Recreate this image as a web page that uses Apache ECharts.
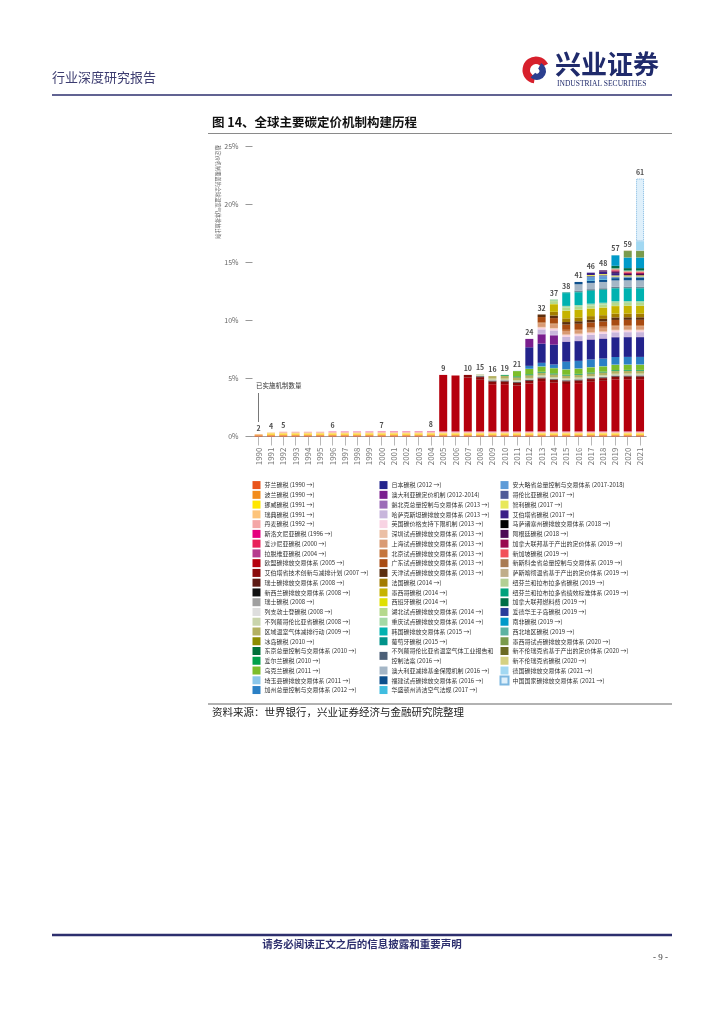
<!DOCTYPE html>
<html><head><meta charset="utf-8">
<script src="https://cdn.jsdelivr.net/npm/echarts@6/dist/echarts.min.js"></script>
<style>html,body{margin:0;padding:0;background:#fff}#c{width:724px;height:1024px}</style>
</head><body><div id="c"></div><script>
const FONT = '"Noto Sans CJK SC","Noto Sans",sans-serif';
const years = ['1990','1991','1992','1993','1994','1995','1996','1997','1998','1999','2000','2001','2002','2003','2004','2005','2006','2007','2008','2009','2010','2011','2012','2013','2014','2015','2016','2017','2018','2019','2020','2021'];
const yTicks = [0,5,10,15,20,25];
// number of implemented mechanisms (label above bar, only when it changes)
const counts = [2,4,5,null,null,null,6,null,null,null,7,null,null,null,8,9,null,10,15,16,19,21,24,32,37,38,41,46,48,57,59,61];

const names = [
 '芬兰碳税 (1990 →)','波兰碳税 (1990 →)','挪威碳税 (1991 →)','瑞典碳税 (1991 →)','丹麦碳税 (1992 →)',
 '斯洛文尼亚碳税 (1996 →)','爱沙尼亚碳税 (2000 →)','拉脱维亚碳税 (2004 →)','欧盟碳排放交易体系 (2005 →)',
 '艾伯塔省技术创新与减排计划 (2007 →)','瑞士碳排放交易体系 (2008 →)','新西兰碳排放交易体系 (2008 →)',
 '瑞士碳税 (2008 →)','列支敦士登碳税 (2008 →)','不列颠哥伦比亚省碳税 (2008 →)','区域温室气体减排行动 (2009 →)',
 '冰岛碳税 (2010 →)','东京总量控制与交易体系 (2010 →)','爱尔兰碳税 (2010 →)','乌克兰碳税 (2011 →)',
 '埼玉县碳排放交易体系 (2011 →)','加州总量控制与交易体系 (2012 →)',
 '日本碳税 (2012 →)','澳大利亚碳定价机制 (2012-2014)','魁北克总量控制与交易体系 (2013 →)','哈萨克斯坦碳排放交易体系 (2013 →)',
 '英国碳价格支持下限机制 (2013 →)','深圳试点碳排放交易体系 (2013 →)','上海试点碳排放交易体系 (2013 →)',
 '北京试点碳排放交易体系 (2013 →)','广东试点碳排放交易体系 (2013 →)','天津试点碳排放交易体系 (2013 →)',
 '法国碳税 (2014 →)','墨西哥碳税 (2014 →)','西班牙碳税 (2014 →)','湖北试点碳排放交易体系 (2014 →)',
 '重庆试点碳排放交易体系 (2014 →)','韩国碳排放交易体系 (2015 →)','葡萄牙碳税 (2015 →)',
 '不列颠哥伦比亚省温室气体工业报告和\n控制法案 (2016 →)','澳大利亚减排基金保障机制 (2016 →)','福建试点碳排放交易体系 (2016 →)',
 '华盛顿州清洁空气法规 (2017 →)',
 '安大略省总量控制与交易体系 (2017-2018)','哥伦比亚碳税 (2017 →)','智利碳税 (2017 →)','艾伯塔省碳税 (2017 →)',
 '马萨诸塞州碳排放交易体系 (2018 →)','阿根廷碳税 (2018 →)','加拿大联邦基于产出的定价体系 (2019 →)','新加坡碳税 (2019 →)',
 '新斯科舍省总量控制与交易体系 (2019 →)','萨斯喀彻温省基于产出的定价体系 (2019 →)','纽芬兰和拉布拉多省碳税 (2019 →)',
 '纽芬兰和拉布拉多省绩效标准体系 (2019 →)','加拿大联邦燃料费 (2019 →)','爱德华王子岛碳税 (2019 →)','南非碳税 (2019 →)',
 '西北地区碳税 (2019 →)','墨西哥试点碳排放交易体系 (2020 →)','新不伦瑞克省基于产出的定价体系 (2020 →)',
 '新不伦瑞克省碳税 (2020 →)','德国碳排放交易体系 (2021 →)','中国国家碳排放交易体系 (2021 →)'
];
const colors = [
 '#e9541b','#f28c1c','#ffe600','#fdc47a','#f4a6a6','#e5007e','#e8215a','#b63b8e','#b5000d',
 '#8a0a0a','#5c1a14','#111111','#a0a0a0','#dedede','#c9d4ac','#b3b061','#8c8c00','#00703a','#00a04a','#7cbd2a',
 '#8ac6ea','#2b80c5',
 '#23238c','#7a1f8e','#9c6cb8','#c8b6dc','#f8d3e3','#ebbfa5','#d99a73','#c5763e','#a84b12','#5b2e0e',
 '#a37c00','#c6b300','#e0e000','#b5d98c','#a3d9a5','#00b2b0','#00938a','#4c6078','#a4b6c6','#0c4f8c','#40bde0',
 '#5d9bd8','#4f5b99','#e8e85a','#3a2088','#000000','#4c0a55','#9a0a50','#f25059','#a97b52','#c0ae8a','#b3cf94',
 '#00a27c','#006f47','#293d9b','#009ac9','#5cb3a2','#7a9b4c','#6b6a22','#d5d182','#a2d8f2','#dff0fb'
];
const startYears = [1990,1990,1991,1991,1992,1996,2000,2004,2005,2007,2008,2008,2008,2008,2008,2009,2010,2010,2010,2011,2011,2012,
 2012,2012,2013,2013,2013,2013,2013,2013,2013,2013,2014,2014,2014,2014,2014,2015,2015,2016,2016,2016,2017,
 2017,2017,2017,2017,2018,2018,2019,2019,2019,2019,2019,2019,2019,2019,2019,2019,2020,2020,2020,2021,2021];
// share of global GHG emissions covered (%), from each mechanism's start year
const values = [
 [0.08,0.08,0.08,0.08,0.08,0.08,0.08,0.08,0.08,0.08,0.08,0.08,0.08,0.08,0.08,0.08,0.08,0.08,0.08,0.08,0.08,0.08,0.08,0.08,0.08,0.08,0.08,0.08,0.08,0.08,0.08,0.08],
 [0.09,0.09,0.09,0.09,0.09,0.09,0.09,0.09,0.09,0.09,0.09,0.09,0.09,0.09,0.09,0.09,0.09,0.09,0.09,0.09,0.09,0.09,0.09,0.09,0.09,0.09,0.09,0.09,0.09,0.09,0.09,0.09],
 [0.09,0.09,0.09,0.09,0.09,0.09,0.09,0.09,0.09,0.09,0.09,0.09,0.09,0.09,0.09,0.09,0.09,0.09,0.09,0.09,0.09,0.09,0.09,0.09,0.09,0.09,0.09,0.09,0.09,0.09,0.09],
 [0.08,0.08,0.08,0.08,0.08,0.08,0.08,0.08,0.08,0.08,0.08,0.08,0.08,0.08,0.08,0.08,0.08,0.08,0.08,0.08,0.08,0.08,0.08,0.08,0.08,0.08,0.08,0.08,0.08,0.08,0.08],
 [0.07,0.07,0.07,0.07,0.07,0.07,0.07,0.07,0.07,0.07,0.07,0.07,0.07,0.07,0.07,0.07,0.07,0.07,0.07,0.07,0.07,0.07,0.07,0.07,0.07,0.07,0.07,0.07,0.07,0.07],
 [0.02,0.02,0.02,0.02,0.02,0.02,0.02,0.02,0.02,0.02,0.02,0.02,0.02,0.02,0.02,0.02,0.02,0.02,0.02,0.02,0.02,0.02,0.02,0.02,0.02,0.02],
 [0.01,0.01,0.01,0.01,0.01,0.01,0.01,0.01,0.01,0.01,0.01,0.01,0.01,0.01,0.01,0.01,0.01,0.01,0.01,0.01,0.01,0.01],
 [0.01,0.01,0.01,0.01,0.01,0.01,0.01,0.01,0.01,0.01,0.01,0.01,0.01,0.01,0.01,0.01,0.01,0.01],
 [4.85,4.80,4.62,4.43,4.05,4.05,3.93,4.11,4.32,4.18,4.07,4.14,4.26,4.34,4.47,4.48,4.48],
 [0.23,0.23,0.23,0.23,0.23,0.23,0.23,0.23,0.23,0.23,0.23,0.23,0.23,0.23,0.23],
 [0.02,0.02,0.02,0.02,0.02,0.02,0.02,0.02,0.02,0.02,0.02,0.02,0.02,0.02],
 [0.05,0.05,0.05,0.05,0.05,0.05,0.05,0.05,0.05,0.05,0.05,0.05,0.05,0.05],
 [0.05,0.05,0.05,0.05,0.05,0.05,0.05,0.05,0.05,0.05,0.05,0.05,0.05,0.05],
 [0.01,0.01,0.01,0.01,0.01,0.01,0.01,0.01,0.01,0.01,0.01,0.01,0.01,0.01],
 [0.12,0.12,0.12,0.12,0.12,0.12,0.12,0.12,0.12,0.12,0.12,0.12,0.12,0.12],
 [0.22,0.22,0.22,0.22,0.22,0.22,0.22,0.22,0.22,0.22,0.22,0.22,0.22],
 [0.01,0.01,0.01,0.01,0.01,0.01,0.01,0.01,0.01,0.01,0.01,0.01],
 [0.03,0.03,0.03,0.03,0.03,0.03,0.03,0.03,0.03,0.03,0.03,0.03],
 [0.06,0.06,0.06,0.06,0.06,0.06,0.06,0.06,0.06,0.06,0.06,0.06],
 [0.45,0.45,0.45,0.45,0.45,0.45,0.45,0.45,0.45,0.45,0.45],
 [0.02,0.02,0.02,0.02,0.02,0.02,0.02,0.02,0.02,0.02,0.02],
 [0.25,0.30,0.30,0.65,0.65,0.65,0.65,0.65,0.65,0.65],
 [1.60,1.65,1.70,1.70,1.70,1.70,1.70,1.70,1.70,1.70],
 [0.72,0.80,0.80],
 [0.05,0.05,0.05,0.05,0.05,0.05,0.05,0.05,0.05],
 [0.38,0.38,0.38,0.38,0.38,0.38,0.38,0.38,0.38],
 [0.15,0.15,0.15,0.15,0.15,0.15,0.15,0.15,0.15],
 [0.06,0.06,0.06,0.06,0.06,0.06,0.06,0.06,0.06],
 [0.30,0.30,0.30,0.30,0.30,0.30,0.30,0.30,0.30],
 [0.10,0.10,0.10,0.10,0.10,0.10,0.10,0.10,0.10],
 [0.45,0.45,0.45,0.45,0.45,0.45,0.45,0.45,0.45],
 [0.22,0.22,0.22,0.22,0.22,0.22,0.22,0.22,0.22],
 [0.32,0.32,0.32,0.32,0.32,0.32,0.32,0.32],
 [0.65,0.65,0.65,0.65,0.65,0.65,0.65,0.65],
 [0.02,0.02,0.02,0.02,0.02,0.02,0.02,0.02],
 [0.25,0.25,0.25,0.25,0.25,0.25,0.25,0.25],
 [0.15,0.15,0.15,0.15,0.15,0.15,0.15,0.15],
 [1.10,1.10,1.10,1.10,1.10,1.10,1.10],
 [0.06,0.06,0.06,0.06,0.06,0.06,0.06],
 [0.08,0.08,0.08,0.08,0.08,0.08],
 [0.55,0.55,0.55,0.55,0.55,0.55],
 [0.20,0.20,0.20,0.20,0.20,0.20],
 [0.05,0.05,0.05,0.05,0.05],
 [0.25,0.25],
 [0.08,0.08,0.08,0.08,0.08],
 [0.10,0.10,0.10,0.10,0.10],
 [0.20,0.20,0.20],
 [0.02,0.02,0.02,0.02],
 [0.10,0.10,0.10,0.10],
 [0.10,0.10,0.10],
 [0.08,0.08,0.08],
 [0.03,0.03,0.03],
 [0.05,0.05,0.05],
 [0.02,0.02,0.02],
 [0.02,0.02,0.02],
 [0.20,0.20,0.20],
 [0.01,0.01,0.01],
 [0.90,0.90,0.90],
 [0.01,0.01,0.01],
 [0.55,0.55],
 [0.02,0.02],
 [0.02,0.02],
 [0.80],
 [5.40]
];

const GL = 252.5, GT = 146, GW = 393.7, GH = 290.5;
const series = names.map((n, i) => {
  const data = years.map(y => {
    const k = +y - startYears[i];
    return (k >= 0 && k < values[i].length) ? values[i][k] : null;
  });
  const s = { name: n, type: 'bar', stack: 'total', barWidth: 8, data, silent: true,
    itemStyle: { color: colors[i] }, emphasis: { disabled: true } };
  if (i === names.length - 1) {
    s.itemStyle = { color: colors[i], borderColor: '#7db7e0', borderWidth: 1, borderType: 'dotted' };
  }
  return s;
});
const totals = years.map((y, k) => series.reduce((a, s) => a + (s.data[k] || 0), 0));
series.push({
  type: 'scatter', data: totals, symbolSize: 0, silent: true, z: 10,
  label: { show: true, position: 'top', distance: 3, fontSize: 7, fontWeight: 'bold', color: '#222', fontFamily: FONT,
    formatter: p => counts[p.dataIndex] == null ? '' : String(counts[p.dataIndex]) }
});

const legendCols = [[0, 22, 252.5], [22, 43, 379.5], [43, 64, 499.5]];
const legend = legendCols.map(c => ({
  orient: 'vertical', left: c[2], top: 480.2, padding: 0, itemGap: 0, itemWidth: 8, itemHeight: 8,
  icon: 'rect', selectedMode: false, data: names.slice(c[0], c[1]),
  textStyle: { fontSize: 6, lineHeight: 9.76, color: '#333', fontFamily: FONT, padding: [0, 0, 0, -1] }
}));

const navy = '#2d2f6e';
const graphic = [
  { type: 'text', left: 52, top: 71, style: { text: '行业深度研究报告', font: '13px ' + FONT, fill: '#3c3c70' } },
  // logo
  { type: 'sector', shape: { cx: 536, cy: 70, r: 13.5, r0: 6, startAngle: Math.PI * 0.55, endAngle: Math.PI * 1.85 }, style: { fill: '#d7202c' } },
  { type: 'sector', shape: { cx: 537, cy: 71, r: 9, r0: 2.5, startAngle: -Math.PI * 0.35, endAngle: Math.PI * 0.75 }, style: { fill: '#2c3f8f' } },
  { type: 'text', left: 555, top: 51, style: { text: '兴业证券', font: 'bold 26px ' + FONT, fill: '#1f2a6b' } },
  { type: 'text', left: 557, top: 80, style: { text: 'INDUSTRIAL SECURITIES', font: '7.5px "Liberation Serif",serif', fill: '#1f2a6b' } },
  { type: 'line', shape: { x1: 52, y1: 95, x2: 672, y2: 95 }, style: { stroke: navy, lineWidth: 1.3 } },
  // title
  { type: 'text', left: 212, top: 116, style: { text: '图 14、全球主要碳定价机制构建历程', font: 'bold 12.5px ' + FONT, fill: '#111' } },
  { type: 'line', shape: { x1: 208, y1: 133.5, x2: 672, y2: 133.5 }, style: { stroke: '#8a8a8a', lineWidth: 1 } },
  // y-axis title (vertical)
  { type: 'text', x: 218, y: 192, rotation: -Math.PI / 2, style: { text: '碳定价机制覆盖的全球温室气体排放比例', font: '5.2px ' + FONT, fill: '#666', align: 'center', verticalAlign: 'middle' } },
  // annotation
  { type: 'text', left: 256, top: 382, style: { text: '已实施机制数量', font: '6.5px ' + FONT, fill: '#333' } },
  { type: 'line', shape: { x1: 258.5, y1: 393, x2: 258.5, y2: 422 }, style: { stroke: '#555', lineWidth: 0.8 } },
  // source
  { type: 'line', shape: { x1: 208, y1: 704, x2: 672, y2: 704 }, style: { stroke: '#666', lineWidth: 1.2 } },
  { type: 'text', left: 212, top: 707, style: { text: '资料来源：世界银行，兴业证券经济与金融研究院整理', font: '10.5px ' + FONT, fill: '#222' } },
  // footer
  { type: 'line', shape: { x1: 52, y1: 935, x2: 672, y2: 935 }, style: { stroke: navy, lineWidth: 2.5 } },
  { type: 'text', x: 362, y: 944, style: { text: '请务必阅读正文之后的信息披露和重要声明', font: 'bold 10.5px ' + FONT, fill: navy, align: 'center', verticalAlign: 'middle' } },
  { type: 'text', x: 668, y: 958, style: { text: '- 9 -', font: '9px "Liberation Serif",serif', fill: '#333', align: 'right', verticalAlign: 'middle' } }
];

const chart = echarts.init(document.getElementById('c'), null, { renderer: 'canvas' });
chart.setOption({
  animation: false,
  backgroundColor: '#fff',
  textStyle: { fontFamily: FONT },
  grid: { left: GL, top: GT, width: GW, height: GH, containLabel: false },
  legend,
  xAxis: {
    type: 'category', data: years,
    axisLine: { lineStyle: { color: '#a0a0a0', width: 1 } },
    axisTick: { show: true, alignWithLabel: true, length: 9, lineStyle: { color: '#b8b8b8' } },
    axisLabel: { rotate: 90, fontSize: 8, color: '#777', margin: 11, interval: 0 }
  },
  yAxis: {
    type: 'value', min: yTicks[0], max: yTicks[yTicks.length - 1], interval: 5,
    axisLine: { show: false },
    axisTick: { show: true, length: 7, lineStyle: { color: '#999' } },
    splitLine: { show: false },
    axisLabel: { formatter: '{value}%', fontSize: 7, color: '#666', margin: 14 }
  },
  series,
  graphic
});
</script></body></html>
